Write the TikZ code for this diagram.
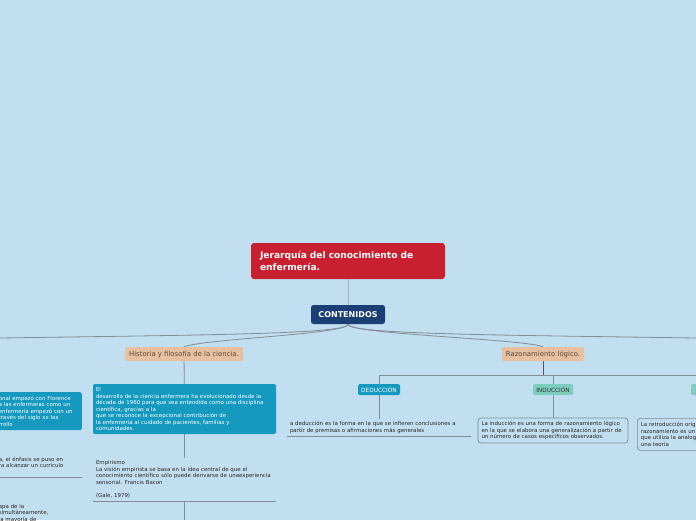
\documentclass[tikz,border=0pt]{standalone}
\usepackage{fontspec}
\setmainfont{DejaVu Sans}
\usepackage{xcolor}
\usetikzlibrary{positioning}
\definecolor{bgblue}{RGB}{194,223,241}
\definecolor{titlered}{RGB}{200,32,48}
\definecolor{navybox}{RGB}{27,63,117}
\definecolor{tanbox}{RGB}{230,192,160}
\definecolor{tantext}{RGB}{92,74,62}
\definecolor{sciteal}{RGB}{21,153,191}
\definecolor{mintbox}{RGB}{126,206,192}
\definecolor{linegray}{RGB}{128,140,150}
\definecolor{darkline}{RGB}{80,92,102}
\newcommand{\notefont}{\fontsize{5.45}{6.5}\selectfont}

\begin{document}
\begin{tikzpicture}[x=1pt, y=-1pt,
  line/.style={draw=linegray, line width=0.8pt},
  titlebox/.style={fill=titlered, rounded corners=3pt, text=white, align=left,
                   font=\fontsize{9.1}{11.5}\selectfont\bfseries, text width=176pt,
                   minimum width=194pt, minimum height=36pt},
  mainbox/.style={fill=navybox, rounded corners=2.5pt, text=white,
                  font=\fontsize{8}{9}\selectfont\bfseries, minimum width=74pt, minimum height=19pt},
  topicbox/.style={fill=tanbox, rounded corners=1.5pt, text=tantext,
                   font=\fontsize{6.9}{8}\selectfont, minimum height=14pt, inner sep=1.5pt},
  tealnote/.style={fill=sciteal, rounded corners=2pt, text=white, align=left,
                   font=\notefont, inner xsep=3pt, inner ysep=3pt},
  plainnote/.style={align=left, font=\notefont, text=black!85, inner xsep=3pt, inner ysep=2pt},
  framenote/.style={draw=linegray, line width=0.7pt, rounded corners=3pt, align=left,
                    font=\notefont, text=black!85, inner xsep=3.5pt, inner ysep=3pt},
  tealtag/.style={fill=sciteal, rounded corners=1.5pt, text=white,
                  font=\fontsize{5.8}{6}\selectfont, minimum height=11pt, inner sep=1pt},
  minttag/.style={fill=mintbox, rounded corners=1.5pt, text=black!80,
                  font=\fontsize{5.8}{6}\selectfont, minimum height=11pt, inner sep=1pt}]
  \useasboundingbox (0,0) rectangle (696,520);
  \fill[bgblue] (0,0) rectangle (696,520);
  % centre
  \node[titlebox] (top)  at (348,261)   {Jerarquía del conocimiento de\\enfermería.};
  \node[mainbox]  (cont) at (348,314.5) {CONTENIDOS};
  \node[topicbox, minimum width=118pt] (hist) at (184,354) {Historia y filosofía de la ciencia.};
  \node[topicbox, minimum width=82pt]  (raz)  at (543,354) {Razonamiento lógico.};
  \coordinate (leftend)  at (0,338);
  \coordinate (rightend) at (696,338);
  % historia column
  \node[tealnote, text width=177pt, minimum height=50pt] (ciencia) at (184.5,409)
    {El\\desarrollo de la ciencia enfermera ha evolucionado desde la\\década de 1960 para que sea entendida como una disciplina\\científica, gracias a la\\que se reconoce la excepcional contribución de\\la enfermería al cuidado de pacientes, familias y\\comunidades.};
  \node[plainnote, text width=177pt, minimum height=43pt, anchor=south] (empir) at (184.5,501)
    {Empirismo\\La visión empirista se basa en la idea central de que el\\conocimiento científico sólo puede derivarse de unaexperiencia\\sensorial. Francis Bacon\\[6.5pt](Gale, 1979)};
  \coordinate (histend) at (184.5,520);
  % left column (cut off)
  \node[tealnote, text width=80pt, minimum height=38pt, anchor=north east] (florence) at (82,392)
    {onal empezó con Florence\\a las enfermeras como un\\enfermería empezó con un\\través del siglo xx las\\rrollo};
  \node[plainnote, text width=80pt, minimum height=29pt, anchor=south east] (enfasis) at (82,477)
    {a, el énfasis se puso en\\ra alcanzar un currículo};
  \node[plainnote, text width=80pt, anchor=north east] (etapa) at (82,502)
    {apa de la\\ simultáneamente,\\ la mayoría de};
  % razonamiento
  \coordinate (rhub) at (543,375);
  \node[tealtag, minimum width=42pt] (ded)   at (379,389.5) {DEDUCCIÓN};
  \node[minttag, minimum width=40pt] (ind)   at (553,389.5) {INDUCCIÓN};
  \node[minttag, minimum width=50pt] (retro) at (716,389.5) {};
  \node[plainnote, text width=178pt, minimum height=17pt, anchor=south] (dedtext) at (379,436)
    {a deducción es la forma en la que se infieren conclusiones a\\partir de premisas o afirmaciones más generales};
  \node[framenote, text width=143pt, minimum height=25pt] (indtext) at (553,430.5)
    {La inducción es una forma de razonamiento lógico\\en la que se elabora una generalización a partir de\\un número de casos específicos observados.};
  \node[framenote, text width=100pt, minimum height=32pt, anchor=north west] (retrotext) at (637,418)
    {La retroducción orig\\razonamiento es un\\que utiliza la analog\\una teoría};
  % connectors
  \draw[line, draw=gray!60] (top) -- (cont);
  \draw[line] (cont.south) .. controls +(0,10) and +(200,-3) .. (leftend);
  \draw[line] (cont.south) .. controls +(0,10) and +(-200,-3) .. (rightend);
  \draw[line] (cont.south) .. controls +(0,10) and +(20,-8) .. (hist.north);
  \draw[line] (cont.south) .. controls +(0,10) and +(-20,-8) .. (raz.north);
  \draw[line] (hist) -- (ciencia);
  \draw[line] (ciencia) -- (empir);
  \draw[line] (empir.south west) -- (empir.south east);
  \draw[line] (empir.south) -- (histend);
  \draw[line] (enfasis.south west) -- (enfasis.south east);
  \draw[line, draw=darkline, line width=1pt] (raz) -- (rhub);
  \foreach \k in {ded,ind,retro} {\draw[line] (rhub) -| (\k.north);}
  \draw[line] (ded) -- (dedtext);
  \draw[line] (dedtext.south west) -- (dedtext.south east);
  \draw[line] (ind) -- (indtext);
  \draw[line] (retro.south) -- (retro.south |- retrotext.north);
\end{tikzpicture}
\end{document}
